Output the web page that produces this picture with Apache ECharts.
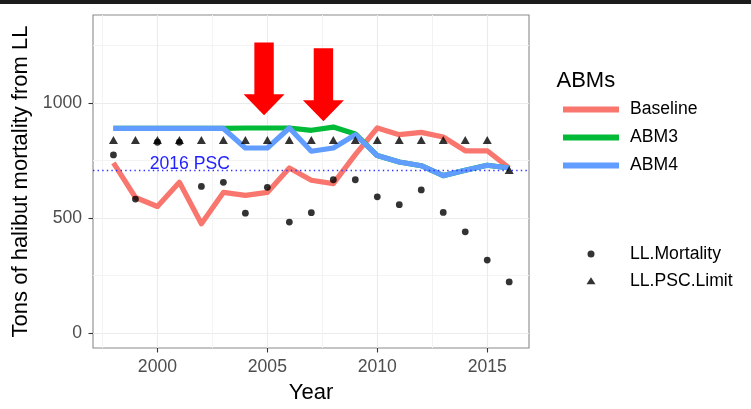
<!DOCTYPE html>
<html>
<head>
<meta charset="utf-8">
<script src="https://cdn.jsdelivr.net/npm/echarts@6/dist/echarts.min.js"></script>
<style>
html,body{margin:0;padding:0;background:#fff;}
#chart{width:751px;height:409px;}
</style>
</head>
<body>
<div id="chart"></div>
<script>
// ---- data ----
const years = [1998,1999,2000,2001,2002,2003,2004,2005,2006,2007,2008,2009,2010,2011,2012,2013,2014,2015,2016];
const baseline = [740,590,551,656,476,612,599,612,718,665,650,776,892,863,873,853,793,793,718];
const abm3     = [890,890,890,890,890,890,892,892,892,882,896,866,772,744,728,685,708,730,718];
const abm4     = [890,890,890,890,890,890,805,805,892,791,805,863,772,744,728,685,708,730,718];
const llMortality = [775,583,830,830,638,656,522,634,483,524,667,667,593,559,623,525,441,318,223];
const llPscLimit  = [840,840,840,840,840,840,840,840,840,840,840,840,840,840,840,840,840,840,710];
const psc2016 = 710;
const pscLabel = [2001.47, 737];
// arrows: [x, yTop, yTip]
const arrows = [[2004.85, 1264, 947], [2007.55, 1238, 921]];
const xMajor = [2000, 2005, 2010, 2015];
const xMinor = [1997.5, 2002.5, 2007.5, 2012.5];
const yMajor = [0, 500, 1000];
const yMinor = [250, 750, 1250];

const FONT = 'Liberation Sans, Arial, Helvetica, sans-serif';
const zip = (a, b) => a.map((v, i) => [v, b[i]]);

const chart = echarts.init(document.getElementById('chart'), null, {renderer: 'canvas'});
const XMIN = 1997.07, XMAX = 2016.9, YMIN = -64, YMAX = 1383;

const lineSeries = (name, data, color, z) => ({
  name, type: 'line', data: zip(years, data), showSymbol: false, symbol: 'none',
  color, itemStyle: {color}, lineStyle: {color, width: 5.2, join: 'round', cap: 'butt'},
  z, silent: true, animation: false
});
const plain = v => String(v);

chart.setOption({
  animation: false,
  backgroundColor: '#ffffff',
  textStyle: {fontFamily: FONT},
  grid: {left: 93, top: 15, width: 436, height: 333, show: true, borderColor: '#8a8a8a', borderWidth: 1.1, backgroundColor: 'transparent', outerBoundsMode: 'none', containLabel: false},
  graphic: [
    {type: 'rect', left: 0, top: 0, shape: {width: 751, height: 4}, style: {fill: '#1c1c1c'}, silent: true},
    {type: 'text', x: 556.5, y: 80.5, style: {text: 'ABMs', fill: '#000', font: '22px ' + FONT, textVerticalAlign: 'middle', textAlign: 'left'}, silent: true}
  ],
  xAxis: [
    {type: 'value', min: XMIN, max: XMAX, position: 'bottom',
     name: 'Year', nameLocation: 'middle', nameGap: 34,
     nameTextStyle: {fontSize: 22, color: '#000', fontFamily: FONT},
     axisLine: {show: false, onZero: false},
     axisTick: {show: true, inside: false, length: 4.5, customValues: xMajor, lineStyle: {color: '#333', width: 1.1}},
     axisLabel: {show: true, customValues: xMajor, formatter: plain, margin: 10, fontSize: 17.6, color: '#4d4d4d', fontFamily: FONT},
     splitLine: {show: true, lineStyle: {color: '#ebebeb', width: 1.1}}},
    {type: 'value', min: XMIN, max: XMAX, position: 'bottom',
     axisLine: {show: false, onZero: false}, axisLabel: {show: false},
     axisTick: {show: false, customValues: xMinor},
     splitLine: {show: true, lineStyle: {color: '#f3f3f3', width: 1}}}
  ],
  yAxis: [
    {type: 'value', min: YMIN, max: YMAX, position: 'left',
     name: 'Tons of halibut mortality from LL', nameLocation: 'middle', nameGap: 51, nameRotate: 90,
     nameTextStyle: {fontSize: 22, color: '#000', fontFamily: FONT},
     axisLine: {show: false, onZero: false},
     axisTick: {show: true, inside: false, length: 4.5, customValues: yMajor, lineStyle: {color: '#333', width: 1.1}},
     axisLabel: {show: true, customValues: yMajor, formatter: plain, margin: 11, fontSize: 17.6, color: '#4d4d4d', fontFamily: FONT},
     splitLine: {show: true, lineStyle: {color: '#ebebeb', width: 1.1}}},
    {type: 'value', min: YMIN, max: YMAX, position: 'left',
     axisLine: {show: false, onZero: false}, axisLabel: {show: false},
     axisTick: {show: false, customValues: yMinor},
     splitLine: {show: true, lineStyle: {color: '#f3f3f3', width: 1}}}
  ],
  legend: [
    {data: ['Baseline', 'ABM3', 'ABM4'], orient: 'vertical', left: 563, top: 99.6, padding: 0,
     icon: 'rect', itemWidth: 56, itemHeight: 6, itemGap: 8, selectedMode: false,
     textStyle: {fontSize: 17.6, color: '#000', fontFamily: FONT, lineHeight: 20, padding: [0, 0, 0, 6]}},
    {data: [{name: 'LL.Mortality', icon: 'circle'}, {name: 'LL.PSC.Limit', icon: 'triangle'}],
     orient: 'vertical', left: 586.5, top: 244, padding: 0,
     itemWidth: 9, itemHeight: 7, itemGap: 6.7, selectedMode: false,
     textStyle: {fontSize: 17.6, color: '#000', fontFamily: FONT, lineHeight: 20, padding: [0, 0, 0, 29.5]}}
  ],
  series: [
    lineSeries('Baseline', baseline, '#F8766D', 2),
    lineSeries('ABM3', abm3, '#00BA38', 3),
    lineSeries('ABM4', abm4, '#619CFF', 4),
    {name: 'psc2016line', type: 'line', data: [], z: 5, silent: true,
     markLine: {silent: true, symbol: 'none', label: {show: false},
       lineStyle: {color: '#3333ff', width: 1.4, type: [1.4, 3.2]},
       data: [{yAxis: psc2016}]}},
    {name: 'pscText', type: 'custom', z: 6, silent: true, data: [pscLabel],
     renderItem: (params, api) => {
       const p = api.coord([api.value(0), api.value(1)]);
       return {type: 'text', x: p[0], y: p[1], style: {text: '2016 PSC', fill: '#2222ff', font: '17.6px ' + FONT, align: 'center', verticalAlign: 'middle'}};
     }},
    {name: 'LL.Mortality', type: 'scatter', data: zip(years, llMortality), symbol: 'circle', symbolSize: 6.8,
     itemStyle: {color: '#000'}, color: '#000', z: 7, silent: true},
    {name: 'LL.PSC.Limit', type: 'scatter', data: zip(years, llPscLimit), symbol: 'triangle', symbolSize: [9, 8],
     itemStyle: {color: '#000'}, color: '#000', z: 7, silent: true},
    {name: 'arrows', type: 'custom', z: 8, silent: true, data: arrows,
     renderItem: (params, api) => {
       const top = api.coord([api.value(0), api.value(1)]);
       const tip = api.coord([api.value(0), api.value(2)]);
       const sw = 9.7, hw = 20.5, hl = 21;
       const x = tip[0];
       const pts = [[x - sw, top[1]], [x + sw, top[1]], [x + sw, tip[1] - hl], [x + hw, tip[1] - hl],
                    [x, tip[1]], [x - hw, tip[1] - hl], [x - sw, tip[1] - hl]];
       return {type: 'polygon', shape: {points: pts}, style: {fill: '#ff0000'}};
     }}
  ]
});
</script>
</body>
</html>
